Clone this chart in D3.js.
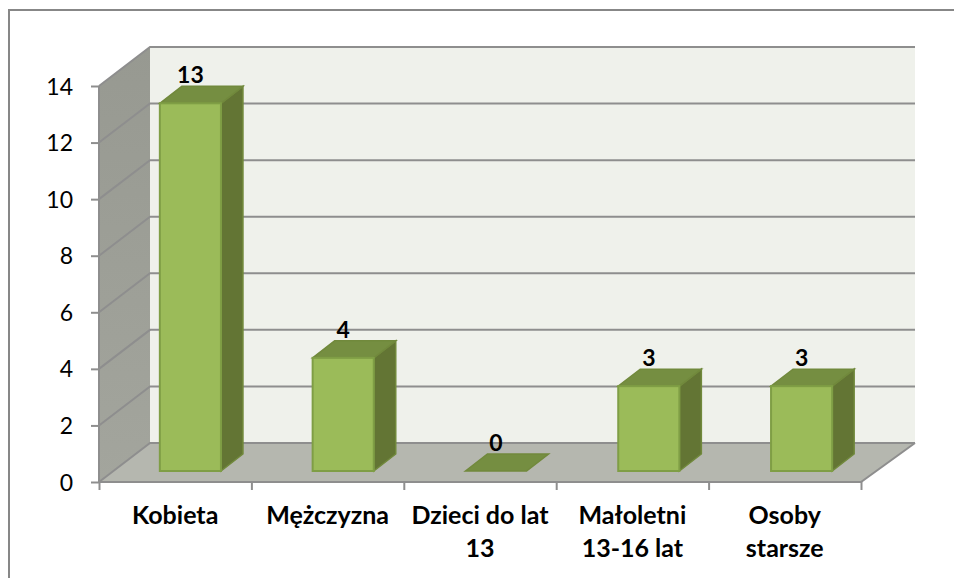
<!DOCTYPE html>
<html>
<head>
<meta charset="utf-8">
<script src="https://cdnjs.cloudflare.com/ajax/libs/d3/7.8.5/d3.min.js"></script>
<style>
  body { margin: 0; background: #fff; }
  text { font-family: Lato, "Open Sans", sans-serif; fill: #000; }
</style>
</head>
<body>
<div id="chart"></div>
<script>
// chart values
const categories = ["Kobieta", "Mężczyzna", "Dzieci do lat 13", "Małoletni 13-16 lat", "Osoby starsze"];
const categoryLines = [["Kobieta"], ["Mężczyzna"], ["Dzieci do lat", "13"], ["Małoletni", "13-16 lat"], ["Osoby", "starsze"]];
const values = [13, 4, 0, 3, 3];
const yTicks = [0, 2, 4, 6, 8, 10, 12, 14];

const width = 954, height = 578;

// front plane of the fake 3d box
const front = {left: 99, right: 861, top: 86, bottom: 482};
// how far the back wall is pushed away
const wallDx = 51, wallDy = -39, backRight = 915;
// bar depth and how far the bars stand from the front edge
const barDx = 22, barDy = -17, barLift = 11;

const svg = d3.select("#chart")
  .append("svg")
    .attr("width", width)
    .attr("height", height)
    .style("display", "block");

const defs = svg.append("defs");
const wallGrad = defs.append("linearGradient")
  .attr("id", "wallGrad").attr("x1", 0).attr("x2", 0).attr("y1", 0).attr("y2", 1);
wallGrad.append("stop").attr("offset", "0%").attr("stop-color", "#979991");
wallGrad.append("stop").attr("offset", "100%").attr("stop-color", "#a3a59d");

const y = d3.scaleLinear().domain([0, 14]).range([front.bottom, front.top]);
// bars sit a little wider apart than the front ticks
const x = d3.scaleBand().domain(categories).range([front.left, front.right + 2]);
const xEdge = d3.scaleLinear().domain([0, categories.length]).range([front.left, front.right]);
const barWidth = x.bandwidth() * 0.4;

const poly = pts => "M" + pts.map(p => p.join(",")).join("L") + "Z";

// outer frame, only top and left show
svg.append("path")
  .attr("d", `M9,578V10H954`)
  .attr("fill", "none")
  .attr("stroke", "#878787")
  .attr("stroke-width", 2);

// back wall
svg.append("rect")
  .attr("x", front.left + wallDx)
  .attr("y", front.top + wallDy)
  .attr("width", backRight - front.left - wallDx)
  .attr("height", front.bottom - front.top)
  .attr("fill", "#eff1eb");

// left wall
svg.append("path")
  .attr("d", poly([
    [front.left, front.top], [front.left + wallDx, front.top + wallDy],
    [front.left + wallDx, front.bottom + wallDy], [front.left, front.bottom]]))
  .attr("fill", "url(#wallGrad)");

// floor
svg.append("path")
  .attr("d", poly([
    [front.left, front.bottom], [front.left + wallDx, front.bottom + wallDy],
    [backRight, front.bottom + wallDy], [front.right, front.bottom]]))
  .attr("fill", "#b5b7af");

// gridlines run up the side wall and then along the back
svg.append("g")
  .selectAll("path")
  .data(yTicks)
  .join("path")
    .attr("d", d => `M${front.left},${y(d)}L${front.left + wallDx},${y(d) + wallDy}H${backRight}`)
    .attr("fill", "none")
    .attr("stroke", "#8e8e8e")
    .attr("stroke-width", 2);

// front edge of floor
svg.append("path")
  .attr("d", `M${front.left},${front.top}V${front.bottom}H${front.right}L${backRight},${front.bottom + wallDy}`)
  .attr("fill", "none")
  .attr("stroke", "#8e8e8e")
  .attr("stroke-width", 2);

// axes
const yAxis = svg.append("g")
  .attr("transform", `translate(${front.left},0)`)
  .call(d3.axisLeft(y).tickValues(yTicks).tickSize(8).tickPadding(18));
yAxis.select(".domain").remove();
yAxis.selectAll("line").attr("stroke", "#8e8e8e").attr("stroke-width", 2);
yAxis.selectAll("text").style("font-size", "23px").attr("dy", "0.35em");

const xAxis = svg.append("g")
  .attr("transform", `translate(0,${front.bottom})`)
  .call(d3.axisBottom(xEdge).ticks(categories.length).tickSize(8).tickFormat(""));
xAxis.select(".domain").remove();
xAxis.selectAll("line").attr("stroke", "#8e8e8e").attr("stroke-width", 2);

// bars
const bx = i => x(categories[i]) + (x.bandwidth() - barWidth) / 2 + 15;
const topY = d => y(d) - barLift;
const baseY = () => y(0) - barLift;

const barGroups = svg.append("g")
  .selectAll("g")
  .data(categories.map((c, i) => ({c: c, v: values[i], i: i})))
  .join("g");

// side face
barGroups.filter(d => d.v > 0).append("path")
  .attr("d", d => {
    const r = bx(d.i) + barWidth;
    return poly([[r, topY(d.v)], [r + barDx, topY(d.v) + barDy], [r + barDx, baseY() + barDy], [r, baseY()]]);
  })
  .attr("fill", "#637534")
  .attr("stroke", "#71893c")
  .attr("stroke-width", 1.5);

// top face
barGroups.append("path")
  .attr("d", d => {
    const l = bx(d.i);
    return poly([[l, topY(d.v)], [l + barDx, topY(d.v) + barDy], [l + barWidth + barDx, topY(d.v) + barDy], [l + barWidth, topY(d.v)]]);
  })
  .attr("fill", "#758e41")
  .attr("stroke", "#71893c")
  .attr("stroke-width", 1.5);

// front face
barGroups.filter(d => d.v > 0).append("rect")
  .attr("x", d => bx(d.i))
  .attr("y", d => topY(d.v))
  .attr("width", barWidth)
  .attr("height", d => baseY() - topY(d.v))
  .attr("fill", "#9bbb59")
  .attr("stroke", "#7f9e45")
  .attr("stroke-width", 2);

// data labels
barGroups.append("text")
  .attr("x", d => bx(d.i) + barWidth / 2)
  .attr("y", d => topY(d.v) - 20)
  .attr("text-anchor", "middle")
  .style("font-size", "23px")
  .style("font-weight", "bold")
  .text(d => d.v);

// category labels
svg.append("g")
  .selectAll("text")
  .data(categoryLines)
  .join("text")
    .attr("text-anchor", "middle")
    .style("font-size", "25px")
    .style("font-weight", "bold")
    .each(function(lines, i) {
      d3.select(this).selectAll("tspan")
        .data(lines)
        .join("tspan")
          .attr("x", xEdge(i + 0.5))
          .attr("y", (l, j) => 524 + j * 33)
          .text(l => l);
    });
</script>
</body>
</html>
